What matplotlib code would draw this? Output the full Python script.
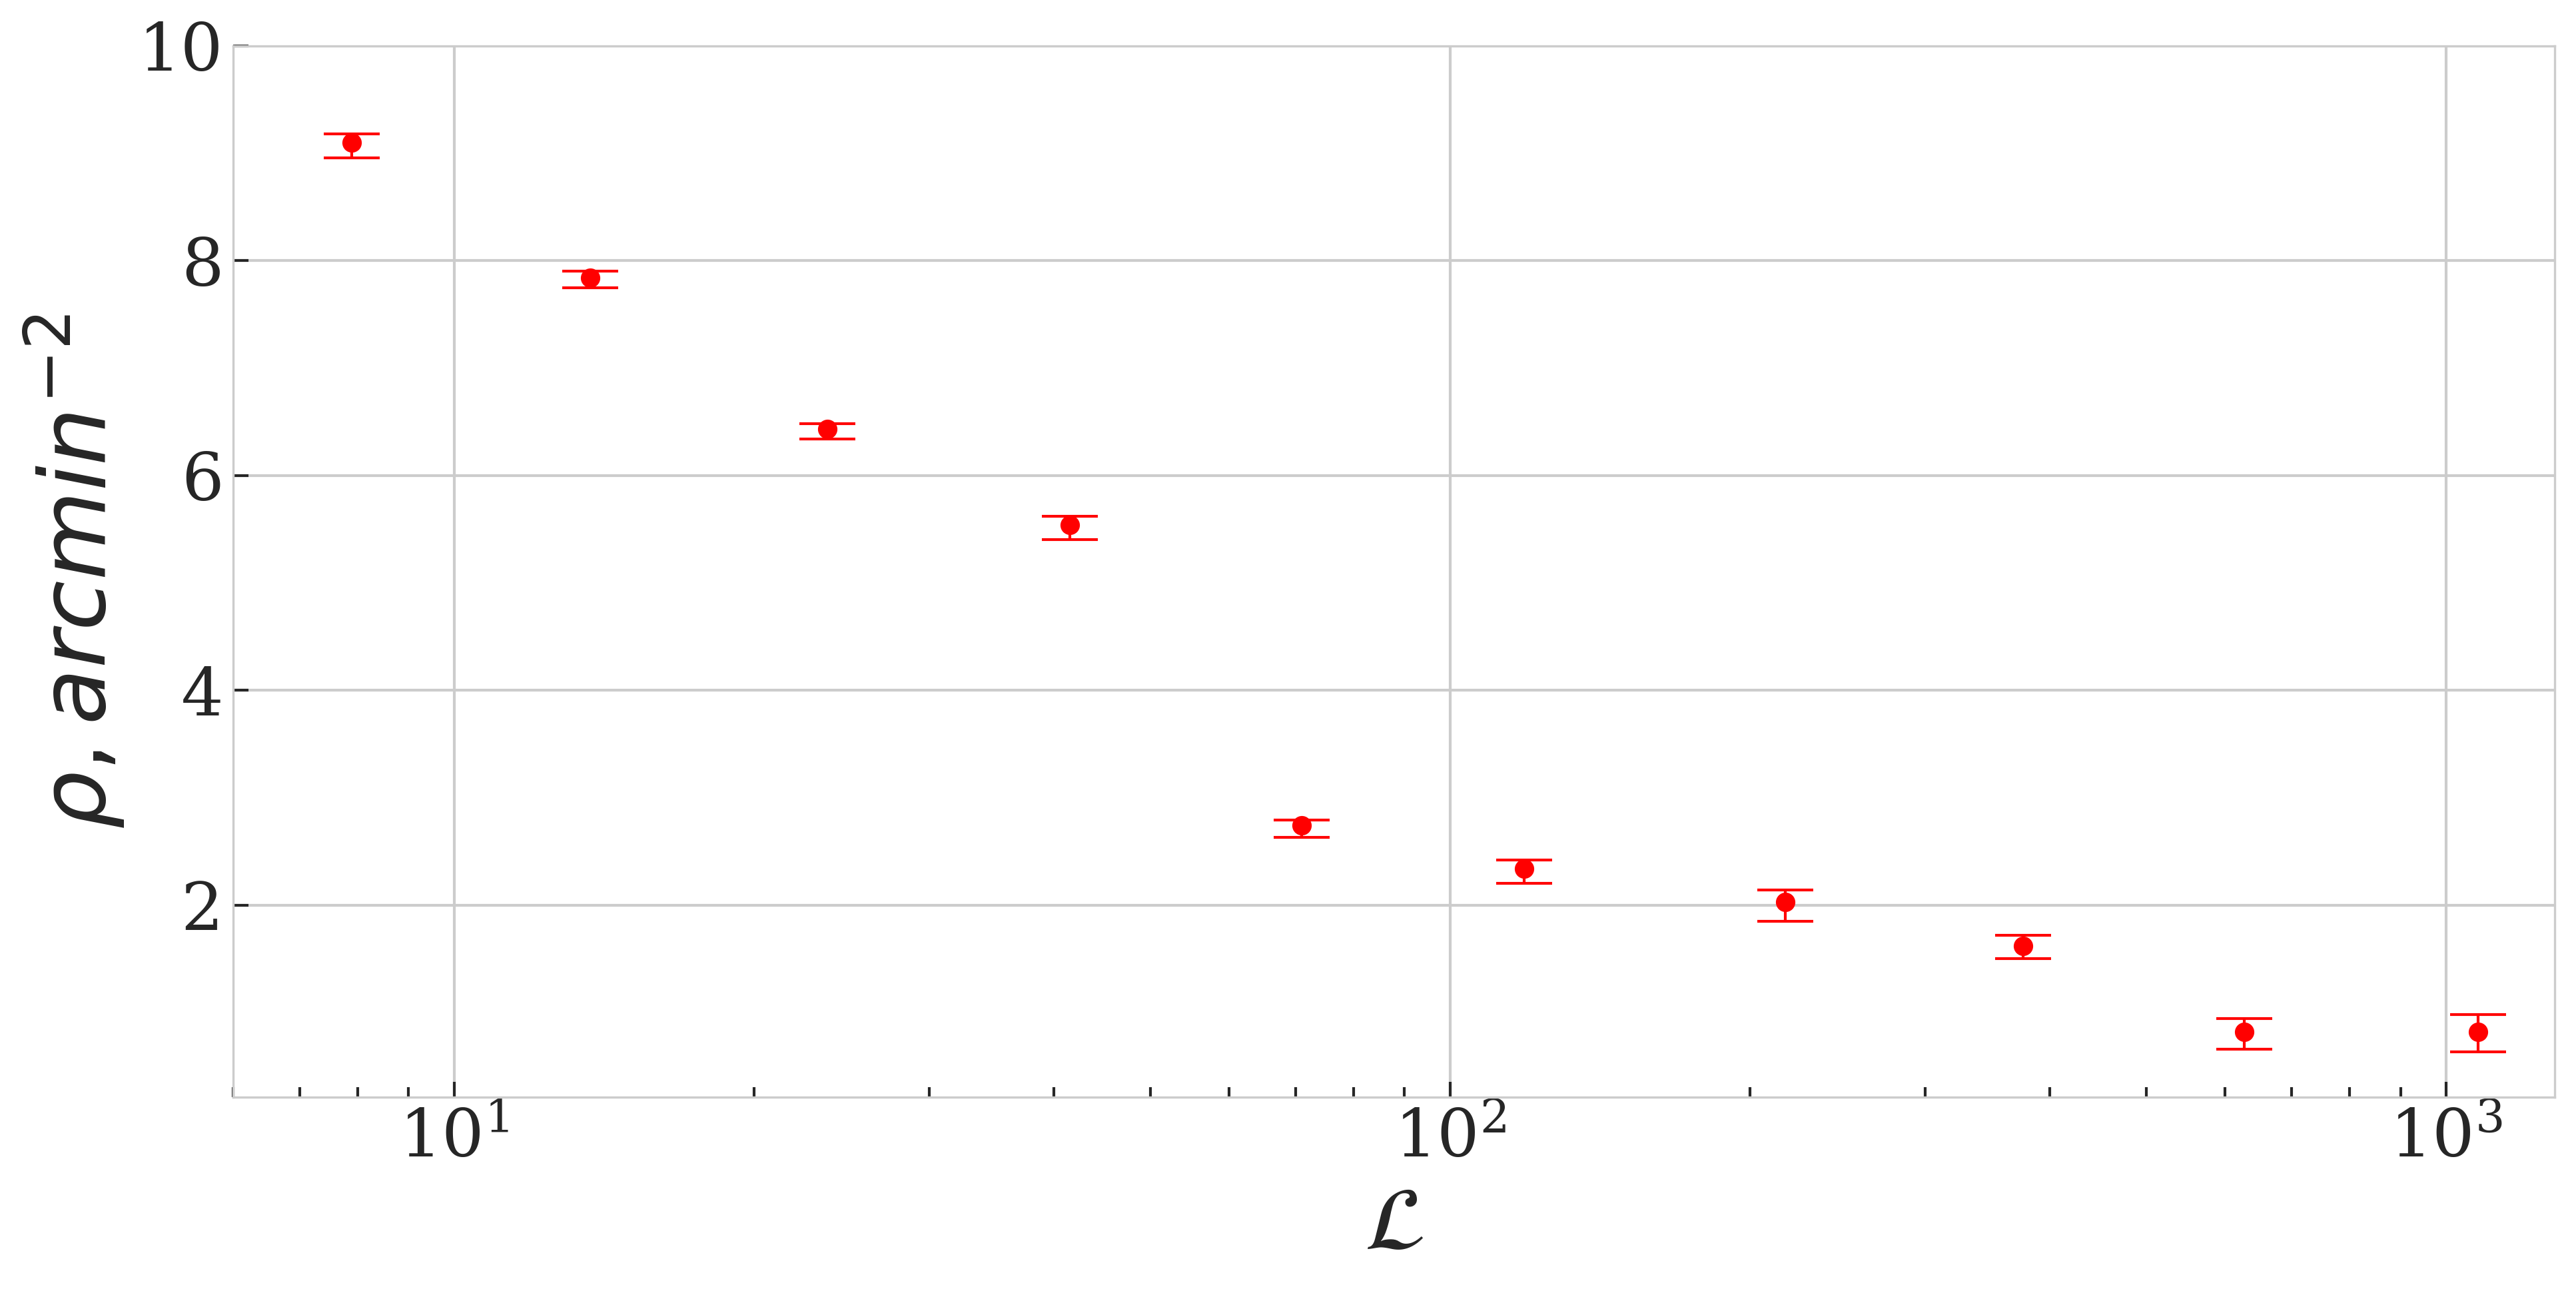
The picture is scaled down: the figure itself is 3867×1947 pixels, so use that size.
import matplotlib
matplotlib.use("Agg")
import matplotlib.pyplot as plt
import seaborn as sns
import numpy as np

# luminosity bins and measured density
L = [7.89, 13.7, 23.7, 41.5, 71.0, 118.6, 217.0, 376.0, 627.0, 1076.0]
rho = [9.10, 7.84, 6.43, 5.54, 2.74, 2.34, 2.03, 1.62, 0.82, 0.82]
rho_hi = [9.18, 7.90, 6.48, 5.62, 2.79, 2.42, 2.14, 1.72, 0.94, 0.98]
rho_lo = [8.96, 7.75, 6.34, 5.40, 2.63, 2.20, 1.85, 1.50, 0.66, 0.63]

sns.set_style("whitegrid")
plt.rcParams["font.family"] = "serif"
plt.rcParams["font.serif"] = ["DejaVu Serif"]

err = [np.array(rho) - np.array(rho_lo), np.array(rho_hi) - np.array(rho)]

fig = plt.figure(figsize=(3867 / 300, 1947 / 300), dpi=300)
ax = fig.add_subplot(111)
fig.subplots_adjust(left=0.0905, right=0.9917, bottom=0.154, top=0.9646)

ax.errorbar(L, rho, yerr=err, fmt="o", color="red", ms=6, capsize=10,
            elinewidth=1.0, capthick=1.0)
ax.set_xscale("log")
ax.set_xlim(6.0, 1285)
ax.set_ylim(0.21, 10)

ax.tick_params(axis="both", which="both", direction="in", colors=".15",
               labelsize=24)
ax.tick_params(axis="both", which="major", length=5.5, width=1.0)
ax.tick_params(axis="x", which="minor", length=3.5, width=1.0, bottom=True)
ax.tick_params(axis="x", which="major", bottom=True)
ax.tick_params(axis="y", which="major", left=True)
ax.grid(True, which="major", color=".8", lw=1.0)
ax.grid(False, which="minor")

ax.set_xlabel(r"$\mathcal{L}$", fontsize=32)
ax.set_ylabel(r"$\rho, arcmin^{-2}$", fontsize=33)

fig.savefig("out.png", dpi=300)
